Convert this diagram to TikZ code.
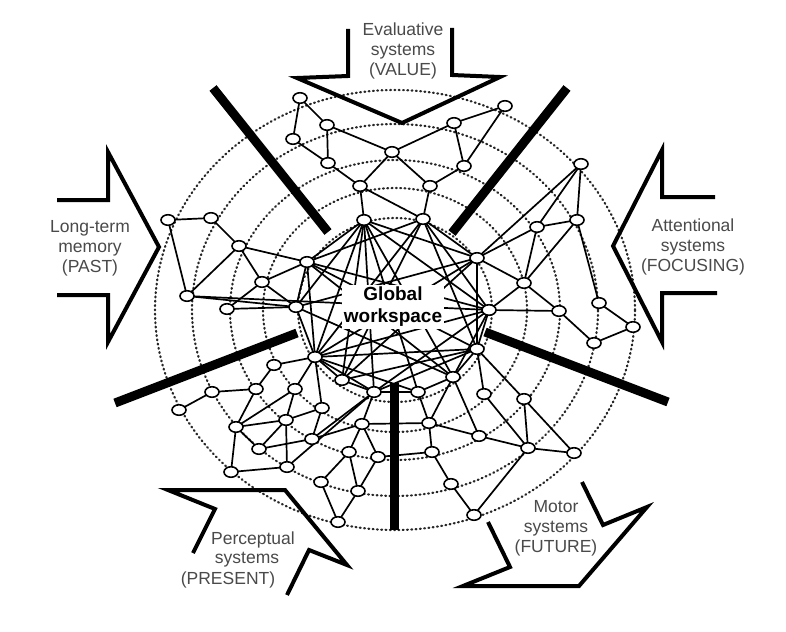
\documentclass[tikz,border=0pt]{standalone}
\usepackage{fontspec}
\setmainfont{Liberation Sans}
\usetikzlibrary{shapes.geometric}
\definecolor{txtgray}{HTML}{4A4A4A}
\begin{document}
\begin{tikzpicture}[x=1pt,y=-1pt,
 ring/.style={line width=2.2pt, dash pattern=on 0.9pt off 3.4pt, line cap=round, black!85},
 lnk/.style={line width=1.7pt},
 nd/.style={ellipse, draw, line width=1.6pt, fill=white, minimum width=14pt, minimum height=10.5pt, inner sep=0pt},
 bar/.style={line width=9pt},
 blk/.style={line width=4pt, line join=miter},
 lbl/.style={text=txtgray, font=\fontsize{17.5}{20}\selectfont, align=center, inner sep=0pt},
]
\useasboundingbox[fill=white] (0,0) rectangle (786,631);

% dotted rings
\foreach \rx/\ry in {240/220, 203/186, 165/150, 132/122, 97/92}
  \draw[ring] (395,310) ellipse [x radius=\rx pt, y radius=\ry pt];

% node coordinates
\foreach \n/\x/\y in {a1/300/98, a2/327/125, a3/293/139, a4/328/163, a5/392/152, a6/360/186, h1/364/220,
  a7/454/123, a8/505/106, a9/464/166, a10/430/186, h2/423/219,
  b1/581/164, b2/577/220, b3/537/227, h3/477/258, b4/524/283, h4/489/310, b5/559/311, b6/599/303, b7/633/327, b8/594/343, h5/477/349,
  c1/168/220, c2/211/218, c3/239/246, h6/307/262, c4/262/282, c5/187/296, c6/227/309, h7/296/307, h8/315/357,
  d1/274/365, d2/212/392, d3/256/389, d4/295/389, h9/342/380, d5/374/392, d6/179/410, d7/322/408, d8/286/420, d9/236/427,
  d10/362/424, d11/312/439, d12/259/449, d13/349/452, d14/378/457, d15/231/472, d16/287/467, d17/321/482, d18/358/491, d19/338/522,
  e1/453/377, e2/418/392, e3/484/394, e4/524/399, e5/429/423, e6/479/436, e7/528/448, e8/574/453, e9/432/452, e10/451/484, e11/474/515}
  \coordinate (\n) at (\x,\y);

% connectors
\foreach \u/\v in {a1/a2, a1/a3, a3/a4, a2/a4, a2/a5, a4/a6, a5/a6, a6/h1, a6/h2, a8/a7, a8/a9, a7/a5, a7/a9, a5/a10, a9/a10, a10/h2,
  b1/b2, b1/b3, b1/h3, b3/b2, b3/h3, b3/b4, b2/b4, b2/b6, h3/b4, b4/h4, b4/b5, h4/b5, b5/b8, b6/b7, b8/b7, h3/h5, h4/e1, h4/h5,
  c1/c2, c1/c5, c2/c3, c3/h6, c3/c4, c3/c5, c4/h6, c4/c6, c4/h7, c5/h7, c5/h4, c6/h7, h6/h7, h6/h8, h7/h8,
  h1/h6, h1/h7, h1/h8, h1/h9, h1/d5, h1/e2, h1/h3, h1/h4, h1/e1,
  h2/h6, h2/h3, h2/h4, h2/h8, h2/h5, h2/h9,
  h6/h4, h6/h5, h6/e1, h7/h3, h7/e1, h8/h3, h8/h5, h8/h4, h8/e2, h9/h3, h9/h5, d5/h4, d5/h5,
  d6/d2, d2/d3, d3/d1, d1/h8, d3/d9, h8/d4, h8/d7, h8/h9, h8/d5, d4/d8, d4/d9, d9/d8, d9/d15, d9/d12, d8/d12, d8/d16, d8/d7,
  d7/d11, d12/d11, d11/d5, d16/d5, d15/d16, d10/d13, d10/d14, d13/d18, d14/d18, d13/d17, d17/d19, d18/d19, d10/d11, h9/d5, d5/d10,
  d5/e2, d10/e5, d14/e9,
  h5/e1, h5/e3, h5/e4, e1/e2, e1/e5, e1/e6, e2/e5, e5/e6, e5/e9, e6/e7, e3/e7, e4/e7, e4/e8, e7/e8, e9/e10, e10/e11, e7/e11}
  \draw[lnk] (\u) -- (\v);

% central label
\node[font=\bfseries\fontsize{19}{22}\selectfont, align=center, fill=white, inner sep=2pt] (gw) at (393,307) {Global\\workspace};

% nodes
\foreach \n in {a1,a2,a3,a4,a5,a6,h1,a7,a8,a9,a10,h2,b1,b2,b3,h3,b4,h4,b5,b6,b7,b8,h5,
  c1,c2,c3,h6,c4,c5,c6,h7,h8,d1,d2,d3,d4,h9,d5,d6,d7,d8,d9,d10,d11,d12,d13,d14,d15,d16,d17,d18,d19,
  e1,e2,e3,e4,e5,e6,e7,e8,e9,e10,e11}
  \node[nd] at (\n) {};

% thick bars
\draw[bar] (213,88) -- (328,232);
\draw[bar] (567,88) -- (452,233);
\draw[bar] (115,403) -- (297,333);
\draw[bar] (485,332) -- (668,402);
\draw[bar] (394,383) -- (394,530);

% block arrows
\draw[blk] (348,29) -- (348,76) -- (297,78) -- (402,123) -- (500,77) -- (452,75) -- (452,28);
\draw[blk] (57,200) -- (108,200) -- (108,152) -- (159,247) -- (108,342) -- (108,295) -- (57,295);
\draw[blk] (715,197) -- (662,197) -- (662,150) -- (613,246) -- (662,342) -- (662,293) -- (717,293);
\draw[blk] (193,553) -- (215,509) -- (168,490) -- (285,490) -- (347,565) -- (309,550) -- (287,595);
\draw[blk] (488,522) -- (510,567) -- (463,586) -- (579,586) -- (647,507) -- (603,525) -- (582,482);

% labels
\node[lbl] (tv) at (403,51) {Evaluative\\systems\\(VALUE)};
\node[lbl] (tp) at (90,248) {Long-term\\memory\\(PAST)};
\node[lbl] (tf) at (693,247) {Attentional\\systems\\(FOCUSING)};
\node[lbl] (tr1) at (253,540) {Perceptual};
\node[lbl] (tr2) at (247,560) {systems};
\node[lbl] (tr3) at (228,580) {(PRESENT)};
\node[lbl] (tm) at (556,528) {Motor\\systems\\(FUTURE)};
\end{tikzpicture}
\end{document}
